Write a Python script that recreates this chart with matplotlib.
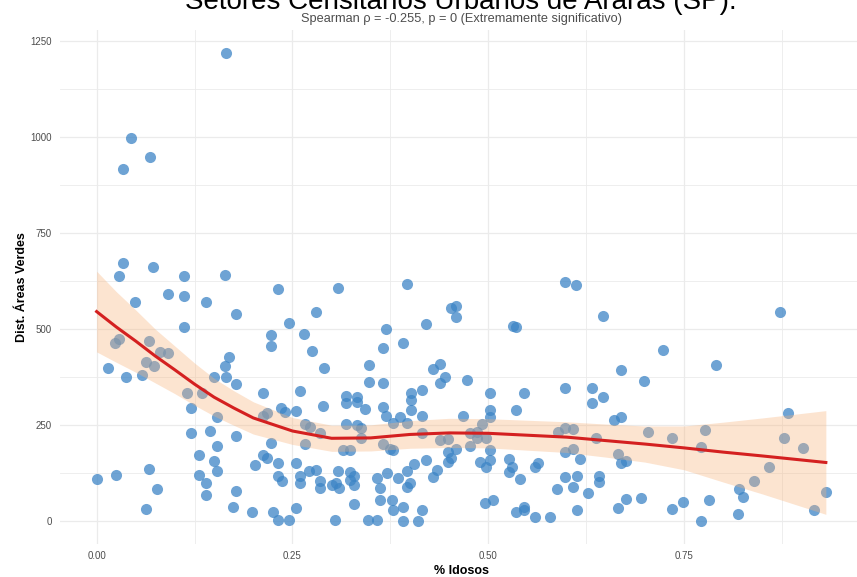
import matplotlib
matplotlib.use('Agg')
import matplotlib.pyplot as plt
from matplotlib.ticker import MultipleLocator

plt.rcParams['font.family'] = ['Liberation Sans', 'DejaVu Sans']

# percentage of elderly residents per census tract (x) and distance to green areas (y)
pct_idosos = [
    0.000, 0.015, 0.025, 0.024, 0.029, 0.029, 0.034, 0.034, 0.044, 0.068,
    0.165, 0.038, 0.049, 0.058, 0.063, 0.063, 0.067, 0.067, 0.072, 0.073,
    0.077, 0.081, 0.091, 0.091, 0.111, 0.111, 0.111, 0.116, 0.121, 0.121,
    0.131, 0.131, 0.135, 0.140, 0.140, 0.140, 0.145, 0.150, 0.150, 0.154,
    0.154, 0.154, 0.164, 0.164, 0.165, 0.169, 0.174, 0.178, 0.178, 0.178,
    0.178, 0.198, 0.202, 0.212, 0.212, 0.217, 0.212, 0.217, 0.222, 0.222,
    0.222, 0.225, 0.232, 0.232, 0.232, 0.232, 0.237, 0.236, 0.241, 0.246,
    0.246, 0.254, 0.254, 0.255, 0.260, 0.260, 0.260, 0.265, 0.266, 0.272,
    0.266, 0.271, 0.275, 0.280, 0.280, 0.285, 0.285, 0.285, 0.289, 0.290,
    0.300, 0.304, 0.306, 0.308, 0.308, 0.310, 0.314, 0.318, 0.318, 0.318,
    0.323, 0.324, 0.324, 0.328, 0.329, 0.329, 0.332, 0.333, 0.332, 0.337,
    0.338, 0.343, 0.347, 0.348, 0.348, 0.358, 0.358, 0.362, 0.362, 0.366,
    0.366, 0.366, 0.366, 0.370, 0.370, 0.371, 0.374, 0.377, 0.379, 0.379,
    0.378, 0.385, 0.387, 0.391, 0.391, 0.391, 0.396, 0.396, 0.396, 0.400,
    0.396, 0.401, 0.401, 0.401, 0.405, 0.410, 0.415, 0.415, 0.415, 0.415,
    0.420, 0.420, 0.429, 0.429, 0.434, 0.439, 0.439, 0.439, 0.445, 0.449,
    0.449, 0.449, 0.453, 0.453, 0.459, 0.459, 0.459, 0.468, 0.473, 0.477,
    0.477, 0.485, 0.485, 0.489, 0.492, 0.496, 0.497, 0.497, 0.502, 0.502,
    0.502, 0.502, 0.502, 0.506, 0.526, 0.530, 0.526, 0.532, 0.535, 0.535,
    0.535, 0.540, 0.545, 0.546, 0.546, 0.560, 0.563, 0.560, 0.579, 0.588,
    0.589, 0.598, 0.598, 0.598, 0.598, 0.598, 0.608, 0.608, 0.608, 0.612,
    0.613, 0.613, 0.617, 0.627, 0.632, 0.632, 0.638, 0.642, 0.642, 0.646,
    0.646, 0.661, 0.666, 0.666, 0.670, 0.670, 0.670, 0.676, 0.676, 0.695,
    0.699, 0.704, 0.723, 0.734, 0.734, 0.748, 0.772, 0.777, 0.782, 0.772,
    0.791, 0.820, 0.825, 0.819, 0.839, 0.858, 0.872, 0.878, 0.883, 0.902,
    0.916, 0.931,
]
dist_verdes = [
    108, 399, 119, 464, 473, 638, 671, 915, 998, 947,
    1217, 375, 571, 381, 414, 31, 468, 134, 662, 403,
    82, 439, 436, 592, 638, 585, 505, 332, 295, 229,
    171, 119, 332, 569, 98, 67, 235, 374, 157, 270,
    195, 130, 640, 403, 375, 426, 35, 539, 356, 221,
    78, 24, 145, 334, 273, 281, 171, 164, 484, 455,
    203, 24, 603, 150, 1, 117, 104, 294, 284, 514,
    1, 287, 150, 33, 338, 117, 99, 486, 253, 245,
    200, 130, 443, 544, 132, 229, 104, 85, 299, 397,
    93, 2, 98, 607, 130, 85, 184, 326, 307, 253,
    128, 184, 106, 44, 117, 93, 323, 309, 249, 241,
    217, 290, 2, 406, 362, 111, 3, 85, 55, 449,
    358, 296, 199, 499, 274, 124, 186, 54, 255, 184,
    28, 111, 270, 464, 37, 0, 617, 255, 130, 99,
    89, 333, 315, 289, 148, 0, 341, 274, 229, 29,
    513, 159, 395, 114, 132, 408, 358, 210, 374, 212,
    180, 154, 163, 553, 559, 530, 187, 272, 368, 229,
    196, 231, 215, 153, 253, 46, 216, 141, 334, 288,
    271, 184, 158, 54, 161, 141, 128, 507, 505, 289,
    22, 108, 37, 28, 334, 140, 151, 11, 10, 82,
    232, 621, 347, 242, 180, 113, 238, 186, 88, 614,
    118, 28, 161, 72, 345, 308, 215, 118, 102, 533,
    323, 262, 175, 33, 393, 270, 150, 156, 56, 59,
    365, 232, 445, 217, 32, 50, 193, 236, 54, 0,
    406, 83, 62, 18, 105, 139, 545, 217, 280, 191,
    28, 74,
]

# smoothed trend and its confidence band
fit_x = [0.0, 0.025, 0.05, 0.075, 0.10, 0.125, 0.15, 0.175, 0.20, 0.25,
         0.30, 0.35, 0.40, 0.45, 0.50, 0.55, 0.60, 0.65, 0.70, 0.75,
         0.80, 0.85, 0.931]
fit_y = [545, 505, 468, 429, 393, 356, 322, 294, 268, 234,
         215, 216, 225, 229, 228, 223, 218, 209, 200, 190,
         179, 169, 152]
fit_lo = [440, 413, 387, 359, 331, 301, 273, 249, 226, 199,
          181, 182, 189, 191, 190, 184, 178, 166, 153, 133,
          101, 70, 17]
fit_hi = [650, 597, 549, 499, 455, 411, 371, 339, 310, 269,
          249, 250, 261, 267, 266, 262, 258, 252, 247, 247,
          257, 268, 287]

x_ticks = [0.0, 0.25, 0.50, 0.75]
x_labels = ['0.00', '0.25', '0.50', '0.75']
y_ticks = [0, 250, 500, 750, 1000, 1250]

title = 'Setores Censitários Urbanos de Araras (SP).'
subtitle = 'Spearman ρ = -0.255, p = 0 (Extremamente significativo)'

fig = plt.figure(figsize=(8.57, 5.77), dpi=100)
# panel runs a little past the right edge, as in the cropped original
ax = fig.add_axes([0.0702, 0.0568, 0.936, 0.891])

ax.scatter(pct_idosos, dist_verdes, s=64, color='#3D85C6', alpha=0.75,
           linewidths=0, zorder=2)
ax.fill_between(fit_x, fit_lo, fit_hi, color='#F8B27A', alpha=0.35,
                linewidth=0, zorder=3)
ax.plot(fit_x, fit_y, color='#D42020', linewidth=2.2, zorder=4)

xr = max(pct_idosos) - min(pct_idosos)
yr = max(dist_verdes) - min(dist_verdes)
ax.set_xlim(min(pct_idosos) - 0.05 * xr, max(pct_idosos) + 0.05 * xr)
ax.set_ylim(min(dist_verdes) - 0.05 * yr, max(dist_verdes) + 0.05 * yr)

ax.set_xticks(x_ticks)
ax.set_xticklabels(x_labels)
ax.set_yticks(y_ticks)
ax.xaxis.set_minor_locator(MultipleLocator(0.125))
ax.yaxis.set_minor_locator(MultipleLocator(125))

ax.grid(True, which='major', color='#EBEBEB', linewidth=0.9, zorder=0)
ax.grid(True, which='minor', color='#EBEBEB', linewidth=0.6, zorder=0)
ax.set_axisbelow(True)
for s in ax.spines.values():
    s.set_visible(False)
ax.tick_params(which='both', length=0, labelsize=7, labelcolor='#4D4D4D')
ax.tick_params(axis='x', pad=5)
ax.tick_params(axis='y', pad=6)

ax.set_xlabel('% Idosos', fontsize=9, fontweight='bold', labelpad=3)
ax.set_ylabel('Dist. Áreas Verdes', fontsize=9, fontweight='bold', labelpad=2)

cx = 0.0702 + 0.936 / 2
# the title sits partly above the top edge, as in the original crop
fig.text(cx, 1 - 9 / 577, title, ha='center', va='baseline', fontsize=20)
fig.text(cx, 1 - 22 / 577, subtitle, ha='center', va='baseline',
         fontsize=9.2, color='#4D4D4D')

fig.savefig('out.png', dpi=100)
